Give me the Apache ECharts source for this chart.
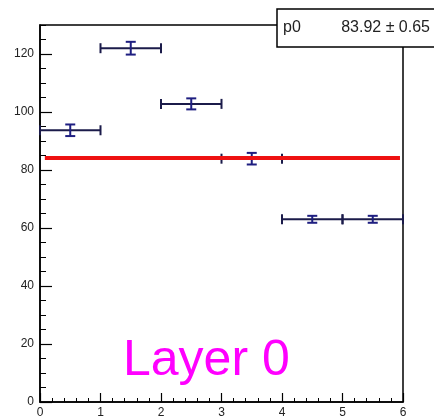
<!DOCTYPE html>
<html>
<head>
<meta charset="utf-8">
<script src="https://cdn.jsdelivr.net/npm/echarts@6/dist/echarts.min.js"></script>
<style>
html,body{margin:0;padding:0;background:#fff;}
#chart{width:434px;height:420px;}
</style>
</head>
<body>
<div id="chart"></div>
<script>
// ---- data ----
const binCenters = [0.5, 1.5, 2.5, 3.5, 4.5, 5.5];
const binHalfWidths = [0.5, 0.5, 0.5, 0.5, 0.5, 0.5];
const counts = [93.7, 122.0, 102.8, 83.9, 63.0, 63.0];
const countErrors = [2.0, 2.2, 1.9, 2.0, 1.2, 1.2];
const fitX = [0.08, 5.95];
const fitY = [84.1, 84.1];
const statName = "p0";
const statValue = "83.92 \u00b1 0.65";
const titleText = "Layer 0";
const xTickValues = [0, 1, 2, 3, 4, 5, 6];
const yTickValues = [0, 20, 40, 60, 80, 100, 120];

const FONT = '"Liberation Sans", Arial, sans-serif';
const chart = echarts.init(document.getElementById('chart'), null, {renderer: 'canvas'});

const errData = binCenters.map((x, i) => [x, counts[i], binHalfWidths[i], countErrors[i]]);
const fitData = fitX.map((x, i) => [x, fitY[i]]);

function renderErr(params, api) {
  const x = api.value(0), y = api.value(1), hw = api.value(2), e = api.value(3);
  const pL = api.coord([x - hw, y]);
  const pR = api.coord([x + hw, y]);
  const pT = api.coord([x, y + e]);
  const pB = api.coord([x, y - e]);
  const hCol = '#1b1b4a', vCol = '#1e1e80';
  const cap = 5;
  const hs = {stroke: hCol, lineWidth: 2};
  const vs = {stroke: vCol, lineWidth: 2};
  return {
    type: 'group',
    children: [
      {type: 'line', shape: {x1: pL[0], y1: pL[1], x2: pR[0], y2: pR[1]}, style: hs},
      {type: 'line', shape: {x1: pL[0], y1: pL[1] - cap, x2: pL[0], y2: pL[1] + cap}, style: hs},
      {type: 'line', shape: {x1: pR[0], y1: pR[1] - cap, x2: pR[0], y2: pR[1] + cap}, style: hs},
      {type: 'line', shape: {x1: pT[0], y1: pT[1], x2: pB[0], y2: pB[1]}, style: vs},
      {type: 'line', shape: {x1: pT[0] - cap, y1: pT[1], x2: pT[0] + cap, y2: pT[1]}, style: vs},
      {type: 'line', shape: {x1: pB[0] - cap, y1: pB[1], x2: pB[0] + cap, y2: pB[1]}, style: vs}
    ]
  };
}

const option = {
  animation: false,
  backgroundColor: '#fff',
  grid: {
    left: 40, right: 31, top: 25, bottom: 18,
    containLabel: false, outerBoundsMode: 'none',
    show: true, borderColor: '#000', borderWidth: 1.5, backgroundColor: 'transparent'
  },
  xAxis: {
    type: 'value', min: 0, max: 6, interval: 1,
    axisLine: {show: true, onZero: false, lineStyle: {color: '#000', width: 1.5}},
    axisTick: {show: true, inside: true, length: 9, lineStyle: {color: '#000', width: 1.2}},
    minorTick: {show: true, splitNumber: 5, length: 4, lineStyle: {color: '#000', width: 1}},
    splitLine: {show: false},
    axisLabel: {
      color: '#222', fontFamily: FONT, fontSize: 12, margin: 5,
      formatter: v => xTickValues.indexOf(v) >= 0 ? String(v) : ''
    }
  },
  yAxis: [
    {
      type: 'value', min: 0, max: 130, interval: 20,
      axisLine: {show: true, onZero: false, lineStyle: {color: '#000', width: 1.5}},
      axisTick: {show: true, inside: true, length: 12, lineStyle: {color: '#000', width: 1.2}},
      splitLine: {show: false},
      axisLabel: {
        color: '#222', fontFamily: FONT, fontSize: 12, margin: 6,
        formatter: v => yTickValues.indexOf(v) >= 0 ? String(v) : '',
        showMaxLabel: false
      }
    },
    {
      type: 'value', min: 0, max: 130, interval: 5, position: 'left',
      axisLine: {show: false},
      axisTick: {show: true, inside: true, length: 6, lineStyle: {color: '#000', width: 1}},
      splitLine: {show: false},
      axisLabel: {show: false}
    }
  ],
  series: [
    {
      type: 'custom',
      renderItem: renderErr,
      data: errData,
      z: 3,
      encode: {x: 0, y: 1}
    },
    {
      type: 'line',
      data: fitData,
      symbol: 'none',
      z: 4,
      lineStyle: {color: '#ee1111', width: 4}
    }
  ],
  graphic: [
    {
      type: 'rect', z: 100,
      shape: {x: 277, y: 9, width: 162, height: 38},
      style: {fill: '#fff', stroke: '#000', lineWidth: 1.5}
    },
    {
      type: 'text', z: 101, x: 283, y: 28,
      style: {text: statName, fill: '#222', font: '16px ' + FONT, verticalAlign: 'middle', align: 'left'}
    },
    {
      type: 'text', z: 101, x: 430, y: 28,
      style: {text: statValue, fill: '#222', font: '16px ' + FONT, verticalAlign: 'middle', align: 'right'}
    },
    {
      type: 'text', z: 101, x: 123, y: 361,
      style: {text: titleText, fill: '#ff00ff', font: '50px ' + FONT, verticalAlign: 'middle', align: 'left'}
    }
  ]
};
chart.setOption(option);
</script>
</body>
</html>
